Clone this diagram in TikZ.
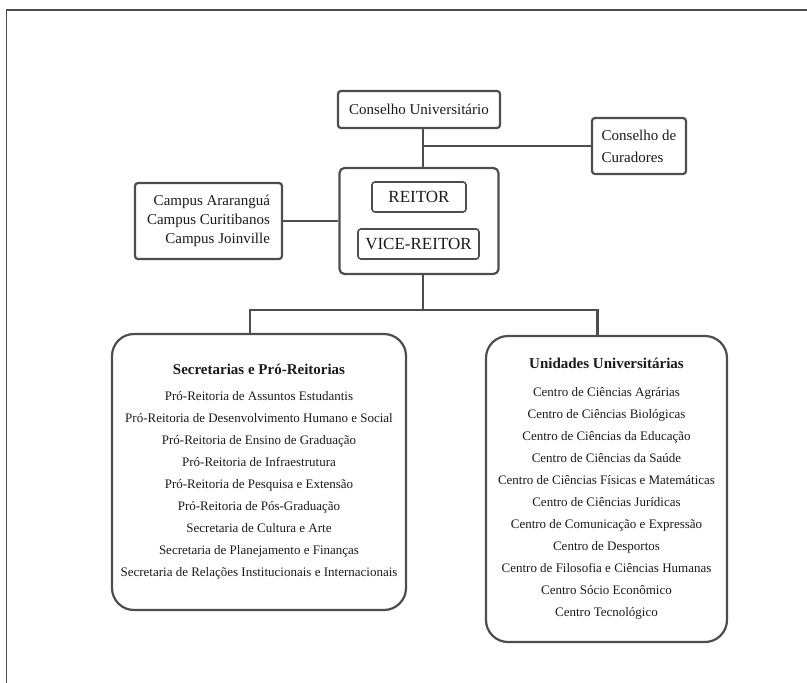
\documentclass[tikz,border=0pt]{standalone}
\usepackage{fontspec}
\setmainfont{Liberation Serif}
\definecolor{linegray}{HTML}{4D4D4D}
\definecolor{textblack}{HTML}{1A1A1A}
\tikzset{
	orgbox/.style={draw=linegray, line width=2.2pt, rounded corners=3pt, inner sep=0pt, text=textblack, font=\fontsize{15}{19}\selectfont},
	titlebox/.style={orgbox, line width=1.6pt, font=\fontsize{17}{20}\selectfont},
	bigbox/.style={draw=linegray, line width=2.2pt, rounded corners=22pt, inner sep=0pt, align=center, text=textblack, font=\fontsize{13}{22}\selectfont},
	link/.style={draw=linegray, line width=2.6pt},
}
\begin{document}
\begin{tikzpicture}[x=1pt, y=-1pt]
				\useasboundingbox (0,0) rectangle (807,683);
				\draw[linegray, line width=1.8pt] (807,10) -- (6.5,10) -- (6.5,683);
				
				\node[orgbox, minimum width=162pt, minimum height=37pt] (cu) at (419,109.5) {Conselho Universitário};
				\node[orgbox, minimum width=94pt, minimum height=56pt, align=left, font=\fontsize{15}{22}\selectfont] (cur) at (639,146) {Conselho de\\Curadores};
				\node[orgbox, rounded corners=5pt, minimum width=159pt, minimum height=106pt] (reitoria) at (419,221) {};
				\node[titlebox, minimum width=94pt, minimum height=30pt] (reitor) at (419,197) {REITOR};
				\node[titlebox, minimum width=121pt, minimum height=30pt] (vice) at (418.5,244) {VICE-REITOR};
				\node[orgbox, minimum width=147pt, minimum height=76pt, align=right] (campus) at (208.5,221) {Campus Araranguá\\Campus Curitibanos\\Campus Joinville};
				
				\node[bigbox, minimum width=294pt, minimum height=276pt] (sec) at (259,472) {{\fontsize{15}{22}\selectfont\bfseries Secretarias e Pró-Reitorias}\\[4pt]
					Pró-Reitoria de Assuntos Estudantis\\
					Pró-Reitoria de Desenvolvimento Humano e Social\\
					Pró-Reitoria de Ensino de Graduação\\
					Pró-Reitoria de Infraestrutura\\
					Pró-Reitoria de Pesquisa e Extensão\\
					Pró-Reitoria de Pós-Graduação\\
					Secretaria de Cultura e Arte\\
					Secretaria de Planejamento e Finanças\\
					Secretaria de Relações Institucionais e Internacionais};
				\node[bigbox, minimum width=241pt, minimum height=306pt] (uni) at (606.5,489) {{\fontsize{15}{22}\selectfont\bfseries Unidades Universitárias}\\[6pt]
					Centro de Ciências Agrárias\\
					Centro de Ciências Biológicas\\
					Centro de Ciências da Educação\\
					Centro de Ciências da Saúde\\
					Centro de Ciências Físicas e Matemáticas\\
					Centro de Ciências Jurídicas\\
					Centro de Comunicação e Expressão\\
					Centro de Desportos\\
					Centro de Filosofia e Ciências Humanas\\
					Centro Sócio Econômico\\
					Centro Tecnológico};
				
				\draw[link] ([xshift=4pt]cu.south) -- ([xshift=4pt]reitoria.north);
				\draw[link] (cur.west) -- ([xshift=4pt]cu.south |- cur.west);
				\draw[link] (campus.east) -- (reitoria.west);
				\draw[link] ([xshift=4pt]reitoria.south) -- ++(0,35) coordinate (split);
				\draw[link] ([xshift=-9pt]sec.north) |- (split) -| ([xshift=-9pt]uni.north);
			\end{tikzpicture}
\end{document}
